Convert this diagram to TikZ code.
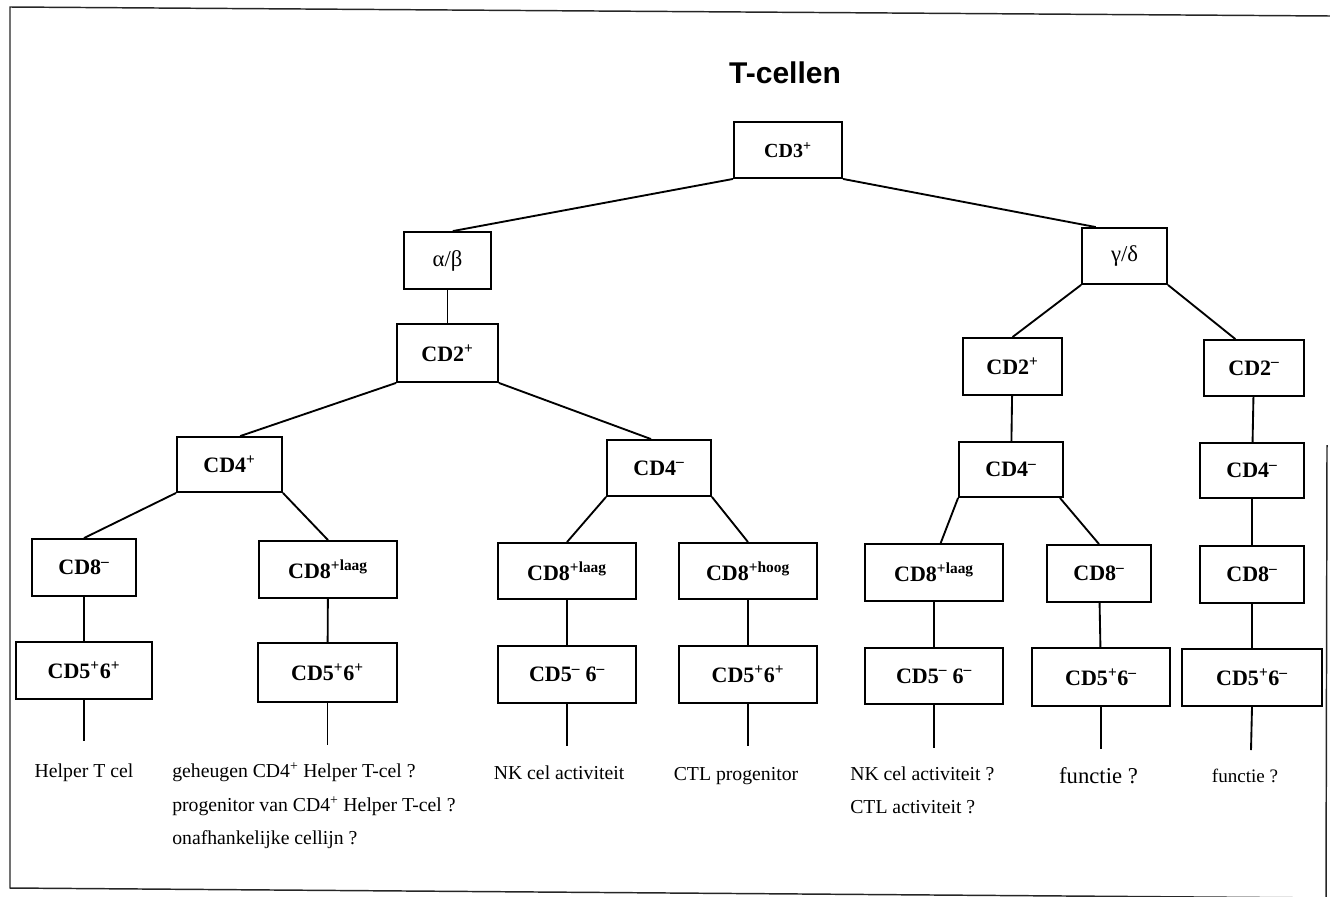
\documentclass[tikz,border=0pt]{standalone}
\usepackage{fontspec}
\setmainfont{Liberation Serif}
\newfontfamily\titlefont{Liberation Sans}
\begin{document}
\begin{tikzpicture}[x=0.75pt,y=-0.75pt,
  box/.style={draw, line width=1.4pt, inner sep=0pt, font=\fontsize{16.5}{19}\selectfont\bfseries},
  sz/.style 2 args={minimum width=#1*0.75pt, minimum height=#2*0.75pt},
  lnk/.style={line width=1.4pt},
  lbl/.style={inner sep=0pt, font=\fontsize{14.8}{17}\selectfont},
  frame/.style={line width=1.1pt, draw=black!85}
]
\useasboundingbox (0,0) rectangle (1330,896);
% frame
\draw[frame] (1330,16) -- (10,7) -- (10,888) -- (1330,898);
\draw[frame] (1327,445) -- (1326,898);
% title
\node[inner sep=0pt, anchor=base, font=\titlefont\fontsize{22.5}{26}\selectfont\bfseries] (title) at (785,83) {T-cellen};
% level boxes
\node[box, sz={108}{56}, font=\fontsize{15}{18}\selectfont\bfseries] (cd3) at (788,150) {CD3\textsuperscript{+}};
\node[box, sz={87}{57}, font=\fontsize{17}{20}\selectfont] (ab) at (447.5,260.5) {α/β};
\node[box, sz={85}{56}, font=\fontsize{17}{20}\selectfont] (gd) at (1124.5,256) {γ/δ};
\node[box, sz={101}{58}] (cd2a) at (447.5,353) {CD2\textsuperscript{+}};
\node[box, sz={99}{57}] (cd2g) at (1012.5,366.5) {CD2\textsuperscript{+}};
\node[box, sz={100}{56}] (cd2m) at (1254,368) {CD2\textsuperscript{–}};
\node[box, sz={105}{55}] (cd4p) at (229.5,464.5) {CD4\textsuperscript{+}};
\node[box, sz={104}{56}] (cd4a) at (659,468) {CD4\textsuperscript{–}};
\node[box, sz={104}{55}] (cd4g) at (1011,469.5) {CD4\textsuperscript{–}};
\node[box, sz={104}{55}] (cd4m) at (1252,470.5) {CD4\textsuperscript{–}};
% CD8 row
\node[box, sz={104}{57}] (cd8a) at (84,567.5) {CD8\textsuperscript{–}};
\node[box, sz={138}{57}] (cd8b) at (328,569.5) {CD8\textsuperscript{+laag}};
\node[box, sz={138}{56}] (cd8c) at (567,571) {CD8\textsuperscript{+laag}};
\node[box, sz={138}{56}] (cd8d) at (748,571) {CD8\textsuperscript{+hoog}};
\node[box, sz={138}{57}] (cd8e) at (934,572.5) {CD8\textsuperscript{+laag}};
\node[box, sz={104}{57}] (cd8f) at (1099,573.5) {CD8\textsuperscript{–}};
\node[box, sz={104}{57}] (cd8g) at (1252,574.5) {CD8\textsuperscript{–}};
% CD5/6 row
\node[box, sz={136}{57}] (cd5a) at (84,670.5) {CD5\textsuperscript{+}6\textsuperscript{+}};
\node[box, sz={139}{59}] (cd5b) at (327.5,672.5) {CD5\textsuperscript{+}6\textsuperscript{+}};
\node[box, sz={138}{57}] (cd5c) at (567,674.5) {CD5\textsuperscript{–} 6\textsuperscript{–}};
\node[box, sz={138}{57}] (cd5d) at (748,674.5) {CD5\textsuperscript{+}6\textsuperscript{+}};
\node[box, sz={138}{56}] (cd5e) at (934,676) {CD5\textsuperscript{–} 6\textsuperscript{–}};
\node[box, sz={138}{58}] (cd5f) at (1101,677) {CD5\textsuperscript{+}6\textsuperscript{–}};
\node[box, sz={140}{57}] (cd5g) at (1252,677.5) {CD5\textsuperscript{+}6\textsuperscript{–}};
% leaf ends
\coordinate (e1) at (84,741);
\coordinate (e2) at (327.5,745);
\coordinate (e3) at (567,746);
\coordinate (e4) at (748,746);
\coordinate (e5) at (934,748);
\coordinate (e6) at (1101,749);
\coordinate (e7) at (1251,750);
% connectors
\draw[lnk] (cd3.south west) -- ([xshift=4pt]ab.north);
\draw[lnk] (cd3.south east) -- ([xshift=11pt]gd.north west);
\draw[lnk] (ab) -- (cd2a);
\draw[lnk] (cd2a.south west) -- ([xshift=8pt]cd4p.north);
\draw[lnk] (cd2a.south east) -- ([xshift=-6pt]cd4a.north);
\draw[lnk] (cd4p.south west) -- (cd8a.north);
\draw[lnk] (cd4p.south east) -- (cd8b.north);
\draw[lnk] (cd4a.south west) -- (cd8c.north);
\draw[lnk] (cd4a.south east) -- (cd8d.north);
\draw[lnk] (gd.south west) -- (cd2g.north);
\draw[lnk] (gd.south east) -- ([xshift=-14pt]cd2m.north);
\draw[lnk] (cd2g) -- (cd4g);
\draw[lnk] (cd2m) -- (cd4m);
\draw[lnk] (cd4g.south west) -- ([xshift=5pt]cd8e.north);
\draw[lnk] ([xshift=-3pt]cd4g.south east) -- (cd8f.north);
\draw[lnk] (cd4m) -- (cd8g);
\draw[lnk] (cd8a) -- (cd5a);
\draw[lnk] (cd8b) -- (cd5b);
\draw[lnk] (cd8c) -- (cd5c);
\draw[lnk] (cd8d) -- (cd5d);
\draw[lnk] (cd8e) -- (cd5e);
\draw[lnk] (cd8f) -- (cd5f);
\draw[lnk] (cd8g) -- (cd5g);
\draw[lnk] (cd5a.south) -- (e1);
\draw[lnk] (cd5b.south) -- (e2);
\draw[lnk] (cd5c.south) -- (e3);
\draw[lnk] (cd5d.south) -- (e4);
\draw[lnk] (cd5e.south) -- (e5);
\draw[lnk] (cd5f.south) -- (e6);
\draw[lnk] (cd5g.south) -- (e7);
% labels
\node[lbl, anchor=base] (l1) at (84,777) {Helper T cel};
\node[lbl, anchor=base west] (l2a) at (172,777) {geheugen CD4\textsuperscript{+} Helper T-cel ?};
\node[lbl, anchor=base west] (l2b) at (172,811) {progenitor van CD4\textsuperscript{+} Helper T-cel ?};
\node[lbl, anchor=base west] (l2c) at (172,844) {onafhankelijke cellijn ?};
\node[lbl, anchor=base] (l3) at (559,779) {NK cel activiteit};
\node[lbl, anchor=base] (l4) at (736,780) {CTL progenitor};
\node[lbl, anchor=base west] (l5a) at (850,780) {NK cel activiteit ?};
\node[lbl, anchor=base west] (l5b) at (850,813) {CTL activiteit ?};
\node[lbl, anchor=base, font=\fontsize{17}{20}\selectfont] (l6) at (1098.5,783) {functie ?};
\node[lbl, anchor=base, font=\fontsize{14.3}{17}\selectfont] (l7) at (1245,782) {functie ?};
\end{tikzpicture}
\end{document}
